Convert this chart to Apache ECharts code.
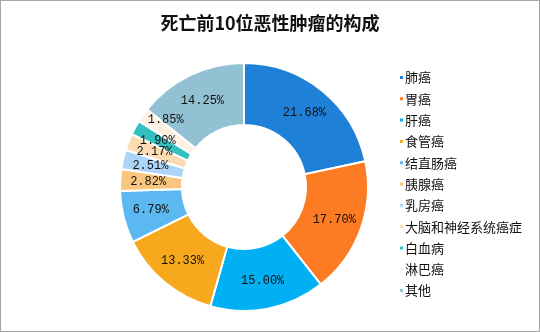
<!DOCTYPE html>
<html>
<head>
<meta charset="utf-8">
<script src="https://cdn.jsdelivr.net/npm/echarts@6/dist/echarts.min.js"></script>
<style>
  html, body { margin: 0; padding: 0; background: #fff; }
  #chart { width: 540px; height: 332px; box-sizing: border-box; border: 1px solid #a6a6a6; }
</style>
</head>
<body>
<div id="chart"></div>
<script>
// Cancer types among the top-10 causes of cancer death (share, %)
const categories = ['肺癌', '胃癌', '肝癌', '食管癌', '结直肠癌', '胰腺癌', '乳房癌', '大脑和神经系统癌症', '白血病', '淋巴癌', '其他'];
const shares = [21.68, 17.70, 15.00, 13.33, 6.79, 2.82, 2.51, 2.17, 1.90, 1.85, 14.25];
const palette = ['#1e80d6', '#fd7b23', '#00b0f2', '#f8a81c', '#5cb8f0', '#f8c67e', '#abd4f8', '#fbdcb2', '#33c1c0', '#fdf1e2', '#93c1d4'];
const titleText = '死亡前10位恶性肿瘤的构成';

// nudge the crowded small-slice labels apart
const labelNudge = { '白血病': [-2, 0], '淋巴癌': [0, -12] };

const chart = echarts.init(document.getElementById('chart'), null, { renderer: 'canvas' });

chart.setOption({
  backgroundColor: '#ffffff',
  animation: false,
  color: palette,
  title: {
    text: titleText,
    left: 'center',
    top: 8,
    textStyle: {
      fontFamily: '"Noto Sans CJK SC", sans-serif',
      fontWeight: 'bold',
      fontSize: 18,
      color: '#111'
    }
  },
  legend: {
    orient: 'vertical',
    left: 392,
    top: 65,
    icon: 'rect',
    itemWidth: 5,
    itemHeight: 5,
    itemGap: 8.3,
    textStyle: {
      fontFamily: '"Noto Sans CJK SC", sans-serif',
      fontSize: 13,
      color: '#111',
      padding: [0, 0, 0, -4]
    },
    data: categories
  },
  series: [{
    type: 'pie',
    center: [243, 186],
    radius: [62, 124],
    startAngle: 90,
    clockwise: true,
    avoidLabelOverlap: false,
    labelLayout: { hideOverlap: false },
    itemStyle: { borderColor: '#fff', borderWidth: 2 },
    label: {
      show: true,
      position: 'inside',
      formatter: p => p.value.toFixed(2) + '%',
      fontFamily: '"Liberation Mono", "DejaVu Sans Mono", monospace',
      fontSize: 12,
      color: '#111'
    },
    labelLine: { show: false },
    data: categories.map((name, i) => {
      const item = { name, value: shares[i] };
      if (labelNudge[name]) item.label = { offset: labelNudge[name] };
      return item;
    })
  }]
});
</script>
</body>
</html>
